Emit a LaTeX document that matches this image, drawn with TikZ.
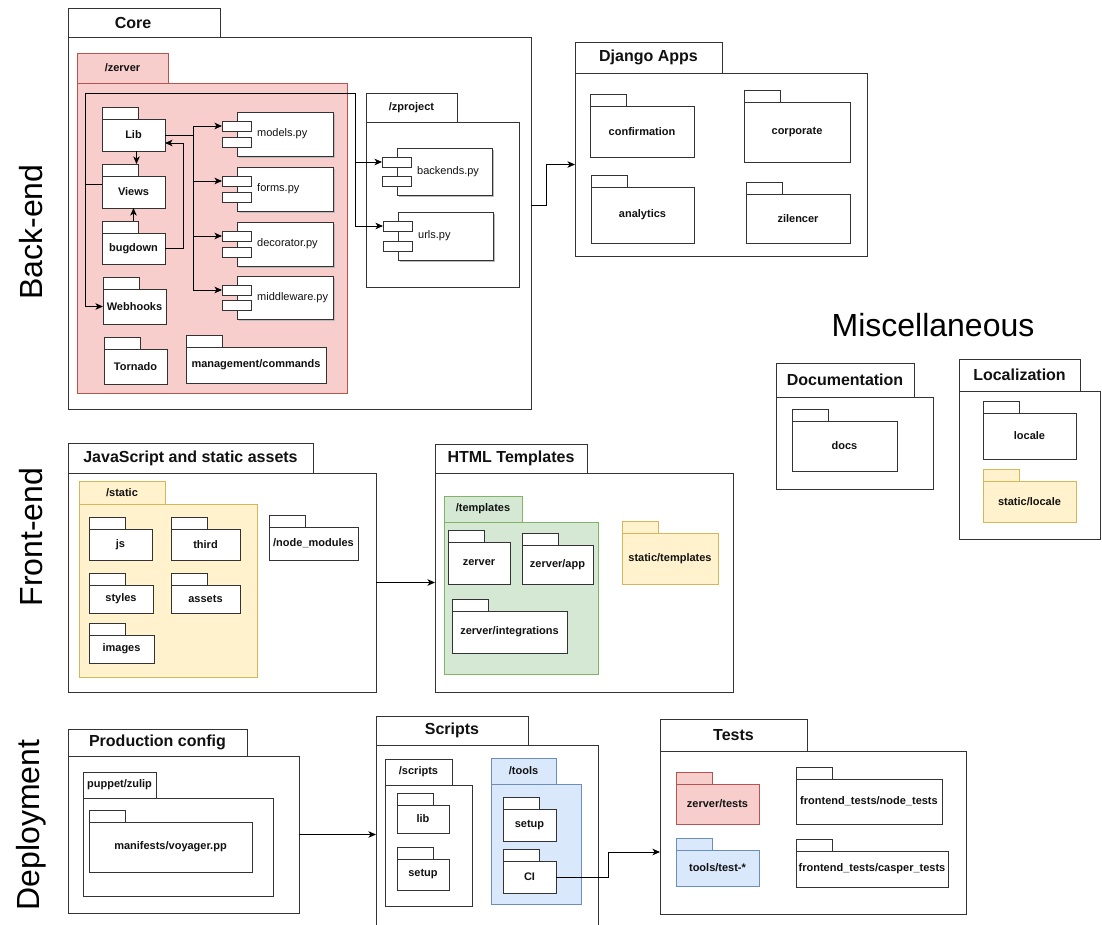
\documentclass[tikz,border=0pt]{standalone}
\usepackage{fontspec}
\setmainfont{Liberation Sans}
\usetikzlibrary{arrows.meta}
\definecolor{pinkF}{HTML}{F8CECC}\definecolor{pinkD}{HTML}{B85450}
\definecolor{yelF}{HTML}{FFF2CC}\definecolor{yelD}{HTML}{D6B656}
\definecolor{grnF}{HTML}{D5E8D4}\definecolor{grnD}{HTML}{82B366}
\definecolor{bluF}{HTML}{DAE8FC}\definecolor{bluD}{HTML}{6C8EBF}
\definecolor{lineC}{HTML}{333333}
\definecolor{shadC}{HTML}{BBBBBB}
\definecolor{txtC}{HTML}{111111}
\newcommand{\ttlfont}{\fontsize{16}{19}\selectfont\bfseries}
\tikzset{
  pkg/.style={draw=lineC, fill=white, line width=0.9pt},
  redpkg/.style={draw=pinkD, fill=pinkF, line width=0.9pt},
  yelpkg/.style={draw=yelD, fill=yelF, line width=0.9pt},
  grnpkg/.style={draw=grnD, fill=grnF, line width=0.9pt},
  blupkg/.style={draw=bluD, fill=bluF, line width=0.9pt},
  cbox/.style={draw=lineC, fill=white, line width=0.9pt, inner sep=0pt, outer sep=0pt},
  lbl/.style={font=\bfseries\fontsize{11}{13}\selectfont, text=txtC, inner sep=0pt},
  cmp/.style={font=\fontsize{11}{13}\selectfont, text=txtC, inner sep=0pt},
  bigtxt/.style={font=\fontsize{32}{38}\selectfont, text=black, inner sep=0pt},
  arr/.style={-{Stealth[length=7.5pt,width=6.5pt,inset=2pt]}, line width=0.9pt, draw=black},
}
% big package: [style]{name}{x1}{ytab}{xtab2}{ybody}{x2}{y2}{label}
\newcommand{\bpk}[9][pkg]{%
  \node[#1, anchor=north west, minimum width={(#5-#3)*1pt}, minimum height={(#6-#4)*1pt}, inner sep=0pt, outer sep=0pt] (#2-tab) at (#3,#4) {};
  \node[#1, anchor=north west, minimum width={(#7-#3)*1pt}, minimum height={(#8-#6)*1pt}, inner sep=0pt, outer sep=0pt] (#2) at (#3,#6) {};
  \node[lbl] (#2-t) at (#2-tab.center) {#9};
}
% small package: [style]{name}{x1}{ytab}{x2}{y2}{label}
\newcommand{\spk}[7][pkg]{%
  \node[#1, anchor=north west, minimum width=36pt, minimum height=12pt, inner sep=0pt, outer sep=0pt] (#2-tab) at (#3,#4) {};
  \node[#1, lbl, anchor=north west, minimum width={(#5-#3)*1pt}, minimum height={(#6-#4-12)*1pt}, outer sep=0pt] (#2) at (#3,{#4+12}) {#7};
}
% component: {name}{x1}{y1}{x2}{y2}{label}
\newcommand{\cmpt}[6]{%
  \fill[shadC] ({#2+2},{#3+2}) rectangle ({#4+2},{#5+2});
  \node[cbox, anchor=north west, minimum width={(#4-#2)*1pt}, minimum height={(#5-#3)*1pt}] (#1) at (#2,#3) {};
  \node[cbox, anchor=north west, minimum width=29pt, minimum height=10pt] (#1-p1) at ({#2-15},{#3+9}) {};
  \node[cbox, anchor=north west, minimum width=29pt, minimum height=10pt] (#1-p2) at ({#2-15},{#5-19}) {};
  \node[cmp, anchor=west] (#1-l) at ({#2+20},{(#3+#5)/2}) {#6};
}
\begin{document}
\begin{tikzpicture}[x=1pt,y=-1pt]
\useasboundingbox[fill=white] (0,0) rectangle (1102,925);
\clip (0,0) rectangle (1102,925);

% side labels
\node[bigtxt, rotate=90] (be) at (31,232) {Back-end};
\node[bigtxt, rotate=90] (fe) at (31,537) {Front-end};
\node[bigtxt, rotate=90] (dp) at (31,825) {Deployment};
\node[bigtxt] (misc) at (933,325) {Miscellaneous};

% ---------- Core ----------
\bpk{Core}{68}{8}{220}{37}{531}{409}{\ttlfont Core\hspace*{22pt}}
\bpk[redpkg]{zerver}{77}{53}{168}{83}{347}{393}{/zerver}
\spk{Lib}{102}{107}{165}{151}{Lib}
\spk{Views}{102}{164}{165}{208}{Views}
\spk{bugdown}{102}{221}{165}{264}{bugdown}
\spk{Webhooks}{103}{277}{166}{324}{Webhooks}
\spk{Tornado}{104}{337}{167}{384}{Tornado}
\spk{mgmt}{186}{335}{326}{383}{management/commands}
\cmpt{models}{237}{112}{333}{156}{models.py}
\cmpt{forms}{237}{167}{333}{211}{forms.py}
\cmpt{decorator}{237}{222}{333}{266}{decorator.py}
\cmpt{middleware}{237}{276}{333}{319}{middleware.py}
\bpk{zproject}{366}{93}{457}{122}{519}{287}{/zproject}
\cmpt{backends}{397}{148}{492}{195}{backends.py}
\cmpt{urls}{398}{212}{493}{260}{urls.py}

\coordinate (bendA) at (85,93);
\coordinate (bendB) at (355,93);
\draw[arr] (Lib.east) -- ++(28,0) |- (models-p1.west);
\draw[arr] (Lib.east) -- ++(28,0) |- (forms-p1.west);
\draw[arr] (Lib.east) -- ++(28,0) |- (decorator-p1.west);
\draw[arr] (Lib.east) -- ++(28,0) |- (middleware-p1.west);
\draw[arr] (bugdown.east) -- ++(18,0) |- ([yshift=-8pt]Lib.east);
\draw[arr] (Views.south |- bugdown-tab.north) -- (Views.south);
\draw[arr] ([xshift=3pt]Lib.south) -- ([xshift=3pt]Lib.south |- Views-tab.north);
\draw[arr] ([yshift=8pt]Views.west) -- ([yshift=8pt]Views.west -| bendA) |- (Webhooks.west);
\draw[arr] ([yshift=8pt]Views.west) -| (bendA) -- (bendB) |- (backends-p1.west);
\draw[arr] ([yshift=8pt]Views.west) -| (bendA) -- (bendB) |- (urls-p1.west);

% ---------- Django Apps ----------
\bpk{Django}{575}{42}{722}{73}{867}{256}{\ttlfont Django Apps}
\spk{confirmation}{590}{94}{694}{157}{confirmation}
\spk{corporate}{744}{90}{850}{162}{corporate}
\spk{analytics}{591}{175}{694}{243}{analytics}
\spk{zilencer}{746}{182}{850}{243}{zilencer}
\draw[arr] ([yshift=18pt]Core.east) -- ++(15,0) |- (Django.west);

% ---------- Front-end ----------
\bpk{JS}{68}{443}{313}{473}{376}{692}{\ttlfont JavaScript and static assets}
\bpk[yelpkg]{static}{79}{481}{165}{504}{257}{677}{/static}
\spk{js}{89}{517}{152}{560}{js}
\spk{third}{171}{517}{240}{560}{third}
\spk{styles}{89}{573}{153}{613}{styles}
\spk{assets}{171}{573}{240}{613}{assets}
\spk{images}{89}{623}{154}{663}{images}
\spk{nodemod}{269}{515}{358}{560}{/node\_modules}

\bpk{HTML}{435}{444}{587}{473}{733}{692}{\ttlfont HTML Templates}
\bpk[grnpkg]{templates}{444}{496}{522}{522}{598}{674}{/templates}
\spk{tzerver}{448}{530}{510}{584}{zerver}
\spk{tapp}{522}{533}{593}{584}{zerver/app}
\spk{tint}{452}{599}{567}{653}{zerver/integrations}
\spk[yelpkg]{stemplates}{622}{521}{718}{584}{static/templates}
\draw[arr] (JS.east) -- (HTML.west);

% ---------- Miscellaneous ----------
\bpk{Doc}{776}{363}{914}{397}{933}{489}{\ttlfont Documentation}
\spk{docs}{792}{409}{897}{471}{docs}
\bpk{Loc}{959}{359}{1080}{391}{1100}{539}{\ttlfont Localization}
\spk{locale}{983}{401}{1076}{459}{locale}
\spk[yelpkg]{slocale}{983}{469}{1076}{522}{static/locale}

% ---------- Deployment ----------
\bpk{Prod}{68}{729}{247}{756}{299}{913}{\ttlfont Production config}
\bpk{puppet}{83}{772}{156}{798}{273}{896}{puppet/zulip}
\spk{manifests}{89}{810}{252}{872}{manifests/voyager.pp}

\bpk{Scripts}{376}{716}{528}{745}{598}{930}{\ttlfont Scripts}
\bpk{scr}{385}{759}{452}{785}{472}{906}{/scripts}
\spk{slib}{397}{793}{449}{833}{lib}
\spk{ssetup}{397}{847}{449}{890}{setup}
\bpk[blupkg]{tools}{491}{758}{556}{784}{581}{904}{/tools}
\spk{tsetup}{503}{797}{556}{841}{setup}
\spk{CI}{503}{849}{556}{893}{CI}

\bpk{Tests}{660}{719}{807}{751}{966}{914}{\ttlfont Tests}
\spk[redpkg]{ztests}{676}{772}{759}{824}{zerver/tests}
\spk[blupkg]{ttests}{676}{838}{759}{886}{tools/test-*}
\spk{nodetests}{796}{767}{942}{824}{frontend\_tests/node\_tests}
\spk{caspertests}{796}{839}{948}{887}{frontend\_tests/casper\_tests}

\draw[arr] (Prod.east) -- (Scripts.west |- Prod.east);
\draw[arr] (CI.east) -- ++(52,0) |- ([yshift=-19.5pt]Tests.west);
\end{tikzpicture}
\end{document}
